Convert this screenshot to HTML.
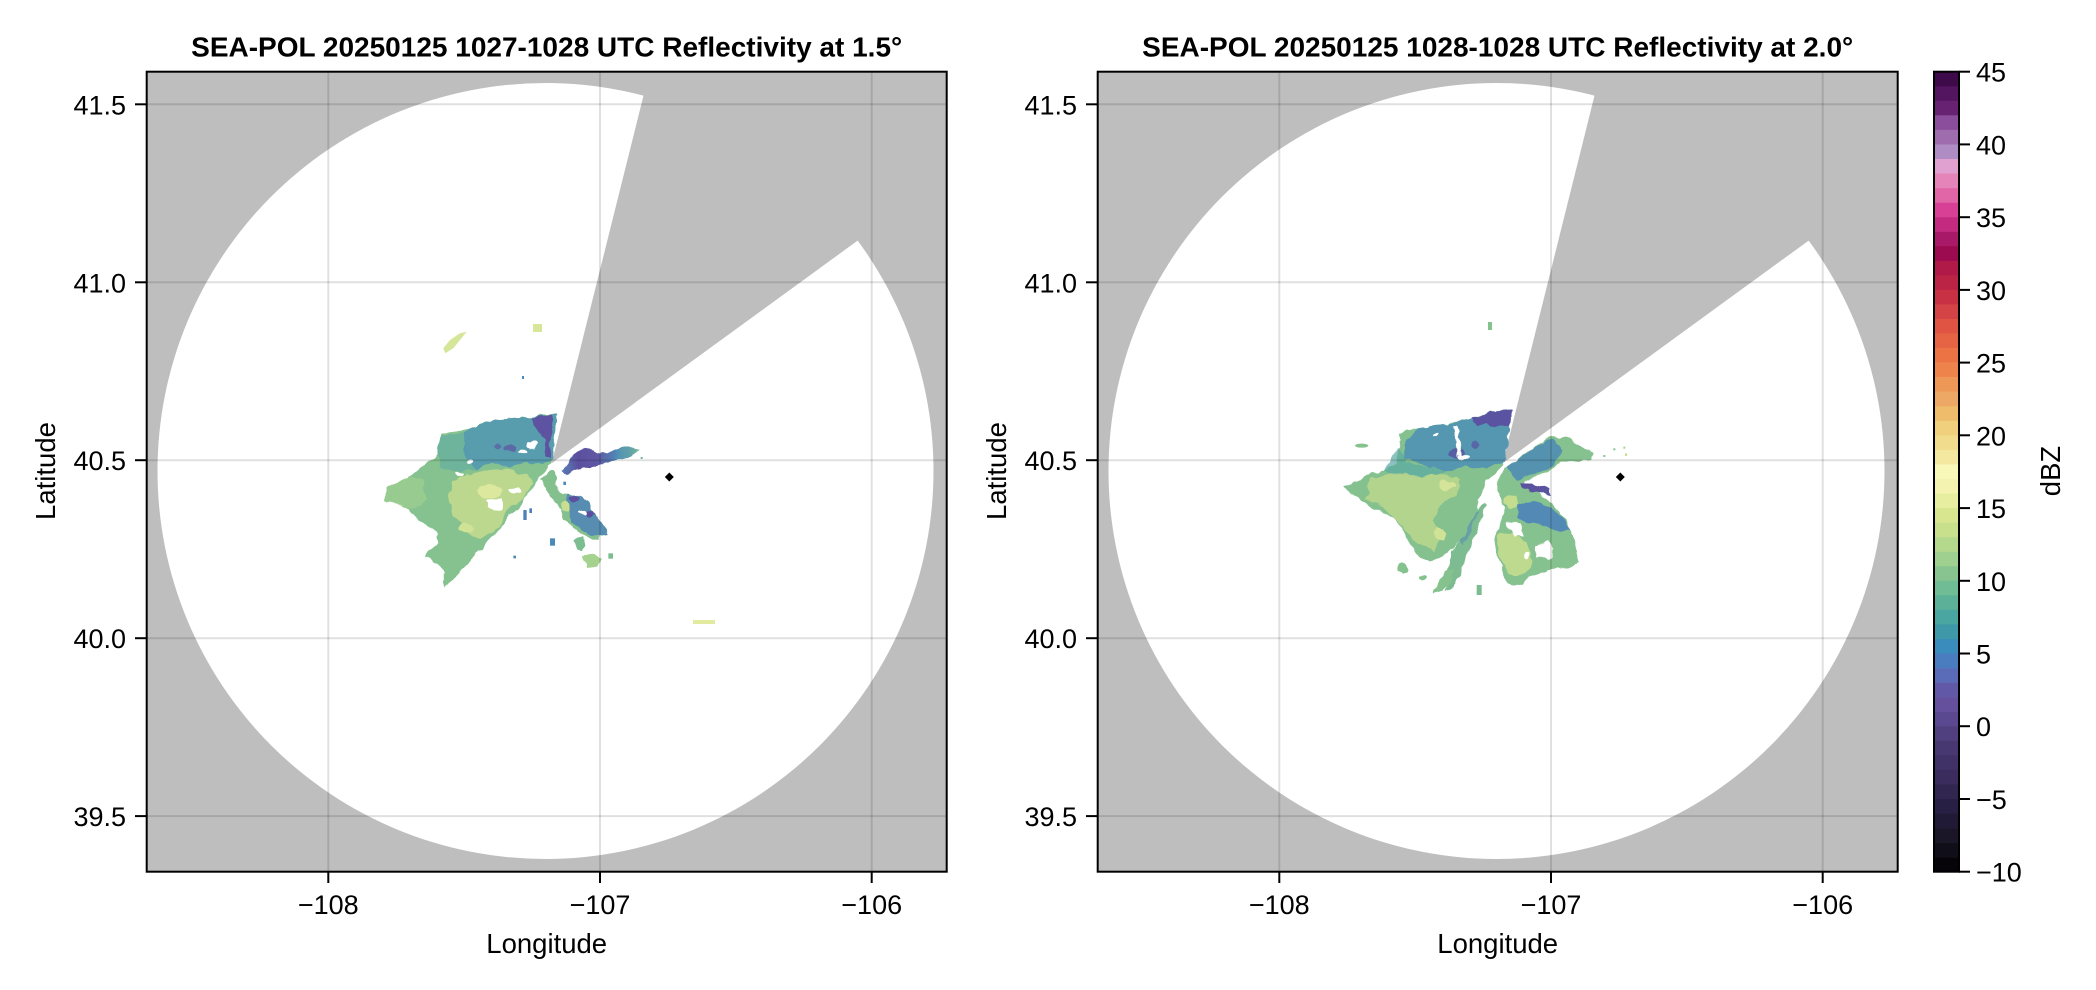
<!DOCTYPE html>
<html>
<head>
<meta charset="utf-8">
<style>
html,body{margin:0;padding:0;background:#fff;}
svg{display:block;}
text{font-family:"Liberation Sans",Arial,sans-serif;fill:#000;}
.tk{font-size:27px;}
.lb{font-size:27.5px;}
.tt{font-size:28px;font-weight:bold;}
</style>
</head>
<body>
<svg width="2096" height="990" viewBox="0 0 2096 990" xmlns="http://www.w3.org/2000/svg">
<defs>
  <clipPath id="cl"><rect x="146.7" y="71.7" width="800" height="800"/></clipPath>
  <clipPath id="cr"><rect x="1097.7" y="71.7" width="800" height="800"/></clipPath>
  <linearGradient id="gs" x1="0" x2="1" y1="0" y2="0">
    <stop offset="0" stop-color="#5a80b6"/>
    <stop offset="0.2" stop-color="#5a4f9e"/>
    <stop offset="0.45" stop-color="#6058a4"/>
    <stop offset="0.7" stop-color="#4e8ab6"/>
    <stop offset="1" stop-color="#74b89c"/>
  </linearGradient>
  <filter id="rough" x="-10%" y="-10%" width="120%" height="120%">
    <feTurbulence type="fractalNoise" baseFrequency="0.03" numOctaves="2" seed="4" result="n"/>
    <feDisplacementMap in="SourceGraphic" in2="n" scale="22" xChannelSelector="R" yChannelSelector="G"/>
  </filter>
</defs>

<!-- ================= LEFT PANEL ================= -->
<g clip-path="url(#cl)">
  <rect x="146.7" y="71.7" width="800" height="800" fill="#bebebe"/>
  <circle cx="545.5" cy="471" r="388" fill="#fff"/>
  <polygon points="551.7,463.3 652.4,60 960,60 960,166.1" fill="#bebebe"/>

  <g transform="translate(370,395) scale(0.333333)">
   <g filter="url(#rough)">
    <path fill="#86c28f" d="M45,282 L70,270 L110,245 L150,225 L200,180 L210,150 L215,120 L250,110 L300,100 L340,85 L380,75 L430,70 L490,65 L520,60 L560,60 L555,120 L545,200 L520,235 L500,260 L470,300 L450,330 L420,360 L400,385 L390,400 L360,430 L330,470 L300,500 L280,520 L260,545 L240,560 L225,578 L212,560 L225,530 L200,505 L165,485 L200,440 L205,415 L160,385 L125,355 L95,330 L60,318 L45,312 Z"/>
    <path fill="#9ccd8f" opacity="0.8" d="M45,282 L110,245 L160,260 L170,320 L120,345 L60,318 L45,312 Z"/>
    <path fill="#64aca0" opacity="0.7" d="M200,180 L215,125 L280,110 L300,190 L320,220 L260,230 L210,215 Z"/>
    <path fill="#4f95b3" opacity="0.82" d="M280,110 L340,85 L380,75 L490,65 L560,60 L548,190 L520,210 L470,200 L420,220 L370,205 L320,220 L290,190 Z"/>
    <path fill="#5d52a0" d="M485,68 L548,60 L545,120 L538,190 L522,185 L528,140 L510,110 L490,95 Z"/>
    <ellipse cx="420" cy="160" rx="20" ry="12" fill="#5d52a0" opacity="0.7"/>
    <ellipse cx="380" cy="150" rx="12" ry="8" fill="#5d52a0" opacity="0.6"/>
    <path fill="#c4dc8e" opacity="0.85" d="M250,255 L320,228 L400,222 L470,238 L485,268 L455,318 L415,338 L385,398 L335,432 L285,412 L255,365 L232,305 Z"/>
    <ellipse cx="360" cy="290" rx="35" ry="22" fill="#dbe89e"/>
    <ellipse cx="290" cy="400" rx="25" ry="15" fill="#d0e296"/>
    <ellipse cx="435" cy="285" rx="22" ry="9" fill="#fff"/>
    <polygon points="350,315 400,312 398,345 372,350 352,338" fill="#fff"/>
    <ellipse cx="268" cy="238" rx="14" ry="6" fill="#fff"/>
    <ellipse cx="490" cy="150" rx="14" ry="12" fill="#fff"/>
    <ellipse cx="458" cy="170" rx="12" ry="6" fill="#fff"/>
    <ellipse cx="300" cy="200" rx="8" ry="5" fill="#fff"/>
    <path fill="url(#gs)" d="M575,228 L595,200 L615,175 L640,160 L670,165 L690,175 L730,165 L770,155 L810,165 L780,185 L740,195 L690,205 L640,217 L598,235 Z"/>
    <path fill="#84c08e" d="M515,250 L540,228 L555,235 L565,285 L590,300 L625,298 L650,320 L670,350 L690,380 L710,400 L715,420 L690,425 L680,440 L660,430 L640,420 L615,400 L600,390 L580,375 L570,340 L555,320 L540,300 L525,275 Z"/>
    <path fill="#4f84b6" opacity="0.85" d="M590,300 L625,298 L650,320 L670,350 L690,380 L710,400 L715,420 L690,425 L660,420 L630,400 L605,385 L595,350 Z"/>
    <ellipse cx="615" cy="310" rx="15" ry="10" fill="#5c50a0"/>
    <ellipse cx="660" cy="355" rx="12" ry="10" fill="#5c50a0"/>
    <ellipse cx="585" cy="335" rx="14" ry="16" fill="#c8de90"/>
    <ellipse cx="640" cy="355" rx="10" ry="6" fill="#fff"/>
    <path fill="#7cbe90" d="M610,430 L640,425 L645,450 L635,470 L620,460 Z"/>
    <path fill="#a6d28f" d="M640,485 L670,480 L690,490 L680,510 L655,515 L645,500 Z"/>
   </g>
    <rect x="812" y="186" width="6" height="6" fill="#74b89c"/>
    <rect x="715" y="475" width="14" height="16" fill="#7cbe90"/>
    <rect x="540" y="430" width="15" height="22" fill="#4a8ab8"/>
    <rect x="460" y="345" width="10" height="30" fill="#5080b8"/>
    <rect x="478" y="340" width="8" height="14" fill="#5080b8"/>
    <rect x="430" y="482" width="8" height="8" fill="#4a8ab8"/>
    <rect x="580" y="260" width="8" height="10" fill="#4a8ab8"/>
  </g>
  <polygon points="466.7,331.7 460,340 453.3,348.3 445.3,353.3 443.3,348.3 450,340 460,333.3" fill="#d6e698"/>
  <rect x="533" y="324" width="9" height="8" fill="#d8e69a"/>
  <rect x="693" y="620" width="22" height="4" fill="#e2ea9e"/>
  <rect x="522" y="376" width="2" height="3" fill="#4a8ab8"/>

  <polygon points="669.3,472.5 673.8,477 669.3,481.5 664.8,477" fill="#000"/>

  <g stroke="rgba(0,0,0,0.12)" stroke-width="2">
    <line x1="328.3" y1="71.7" x2="328.3" y2="871.7"/>
    <line x1="600" y1="71.7" x2="600" y2="871.7"/>
    <line x1="871.7" y1="71.7" x2="871.7" y2="871.7"/>
    <line x1="146.7" y1="104.3" x2="946.7" y2="104.3"/>
    <line x1="146.7" y1="282.3" x2="946.7" y2="282.3"/>
    <line x1="146.7" y1="460.2" x2="946.7" y2="460.2"/>
    <line x1="146.7" y1="638.2" x2="946.7" y2="638.2"/>
    <line x1="146.7" y1="816.1" x2="946.7" y2="816.1"/>
  </g>
</g>
<rect x="146.7" y="71.7" width="800" height="800" fill="none" stroke="#000" stroke-width="2"/>
<g stroke="#000" stroke-width="2">
  <line x1="135" y1="104.3" x2="146.7" y2="104.3"/>
  <line x1="135" y1="282.3" x2="146.7" y2="282.3"/>
  <line x1="135" y1="460.2" x2="146.7" y2="460.2"/>
  <line x1="135" y1="638.2" x2="146.7" y2="638.2"/>
  <line x1="135" y1="816.1" x2="146.7" y2="816.1"/>
  <line x1="328.3" y1="871.7" x2="328.3" y2="883"/>
  <line x1="600" y1="871.7" x2="600" y2="883"/>
  <line x1="871.7" y1="871.7" x2="871.7" y2="883"/>
</g>
<g class="tk" text-anchor="end">
  <text x="126" y="114.3">41.5</text>
  <text x="126" y="292.3">41.0</text>
  <text x="126" y="470.2">40.5</text>
  <text x="126" y="648.2">40.0</text>
  <text x="126" y="826.1">39.5</text>
</g>
<g class="tk" text-anchor="middle">
  <text x="328.3" y="914">−108</text>
  <text x="600" y="914">−107</text>
  <text x="871.7" y="914">−106</text>
</g>
<text class="lb" x="546.7" y="953" text-anchor="middle">Longitude</text>
<text class="lb" text-anchor="middle" transform="translate(55,471) rotate(-90)">Latitude</text>
<text class="tt" x="546.7" y="56.7" text-anchor="middle">SEA-POL 20250125 1027-1028 UTC Reflectivity at 1.5°</text>

<!-- ================= RIGHT PANEL ================= -->
<g clip-path="url(#cr)">
  <rect x="1097.7" y="71.7" width="800" height="800" fill="#bebebe"/>
  <circle cx="1496.5" cy="471" r="388" fill="#fff"/>
  <polygon points="1502.7,463.3 1603.4,60 1911,60 1911,166.1" fill="#bebebe"/>

  <g transform="translate(1320,395) scale(0.333333)">
   <g filter="url(#rough)">
    <path fill="#84c18f" d="M70,275 L100,262 L150,240 L190,225 L230,200 L235,160 L240,120 L260,105 L290,100 L330,95 L370,90 L410,80 L440,75 L480,60 L520,50 L575,45 L565,120 L550,210 L520,240 L500,270 L470,320 L480,360 L450,400 L430,430 L400,460 L370,480 L330,500 L300,490 L280,460 L250,410 L220,370 L160,340 L130,320 L100,300 Z"/>
    <path fill="#5aa8a4" opacity="0.7" d="M190,225 L235,160 L260,200 L330,215 L380,232 L300,245 L220,240 Z"/>
    <path fill="#4a8cb8" opacity="0.8" d="M250,150 L290,100 L370,90 L440,75 L520,50 L575,45 L555,200 L500,220 L440,215 L380,230 L330,215 L290,200 L250,190 Z"/>
    <path fill="#5a52a2" d="M450,70 L520,50 L575,45 L570,90 L540,95 L500,85 L470,90 Z"/>
    <ellipse cx="410" cy="175" rx="25" ry="15" fill="#5a52a2" opacity="0.8"/>
    <ellipse cx="470" cy="150" rx="15" ry="10" fill="#5a52a2" opacity="0.7"/>
    <path fill="#c2da8c" opacity="0.75" d="M150,255 L220,235 L300,242 L380,238 L420,252 L410,300 L360,330 L335,380 L370,420 L340,465 L290,448 L250,400 L200,350 L140,312 Z"/>
    <ellipse cx="380" cy="270" rx="25" ry="15" fill="#d4e498"/>
    <ellipse cx="360" cy="420" rx="20" ry="18" fill="#d0e296"/>
    <path fill="#fff" d="M400,95 L412,95 L425,180 L413,185 Z"/>
    <ellipse cx="432" cy="185" rx="15" ry="6" fill="#fff"/>
    <ellipse cx="350" cy="120" rx="10" ry="5" fill="#fff"/>
    <path fill="#fff" d="M495,255 L535,245 L555,270 L548,320 L545,370 L520,385 L500,355 L478,330 Z"/>
    <path fill="#7cbc90" d="M395,470 L420,440 L450,390 L470,350 L490,320 L500,330 L485,380 L460,430 L440,480 L420,540 L400,580 L380,590 L385,540 Z"/>
    <path fill="#5a8cb8" opacity="0.6" d="M420,440 L450,390 L470,350 L480,345 L455,400 L430,450 Z"/>
    <path fill="#86c28e" d="M340,600 L350,560 L380,530 L400,520 L395,560 L370,590 Z"/>
    <ellipse cx="250" cy="520" rx="18" ry="16" fill="#86c28e"/>
    <ellipse cx="310" cy="548" rx="10" ry="8" fill="#86c28e"/>
    <path fill="#86c28f" d="M555,220 L600,185 L640,160 L690,125 L740,125 L760,140 L790,160 L820,170 L815,195 L760,200 L720,200 L700,220 L660,240 L640,250 L610,262 L650,290 L690,320 L720,350 L745,385 L760,420 L770,470 L775,500 L740,520 L700,520 L660,535 L630,545 L600,570 L560,565 L545,520 L525,470 L520,430 L540,390 L555,340 L540,300 L530,260 Z"/>
    <path fill="#4c8ab6" opacity="0.85" d="M560,215 L610,180 L660,150 L700,130 L725,165 L700,210 L640,240 L590,255 Z"/>
    <path fill="#fff" d="M612,258 L700,228 L705,262 L640,262 Z"/>
    <path fill="#5a52a0" d="M600,265 L640,266 L690,285 L695,300 L640,292 L605,278 Z"/>
    <path fill="#4a80bc" opacity="0.85" d="M590,330 L640,318 L690,338 L730,368 L752,402 L720,412 L670,392 L620,382 L590,370 Z"/>
    <path fill="#c8de8e" opacity="0.85" d="M530,420 L580,410 L620,440 L640,500 L610,540 L570,540 L540,500 Z"/>
    <ellipse cx="575" cy="320" rx="20" ry="20" fill="#c4dc8e"/>
    <path fill="#fff" d="M645,450 L680,440 L700,460 L690,490 L655,490 Z"/>
    <path fill="#fff" d="M560,380 L600,385 L615,420 L590,425 L565,400 Z"/>
    <ellipse cx="620" cy="480" rx="10" ry="8" fill="#fff"/>
   </g>
    <rect x="470" y="570" width="15" height="30" fill="#7cbc90"/>
    <ellipse cx="125" cy="152" rx="20" ry="6" fill="#86c28e"/>
    <rect x="880" y="160" width="6" height="6" fill="#86c28e"/>
    <rect x="910" y="155" width="6" height="6" fill="#a6d28f"/>
    <rect x="850" y="180" width="6" height="6" fill="#86c28e"/>
    <rect x="915" y="175" width="6" height="8" fill="#c8de8e"/>
  </g>
  <rect x="1488" y="322" width="4" height="8" fill="#86c28e"/>

  <polygon points="1620.3,472.5 1624.8,477 1620.3,481.5 1615.8,477" fill="#000"/>

  <g stroke="rgba(0,0,0,0.12)" stroke-width="2">
    <line x1="1279.3" y1="71.7" x2="1279.3" y2="871.7"/>
    <line x1="1551" y1="71.7" x2="1551" y2="871.7"/>
    <line x1="1822.7" y1="71.7" x2="1822.7" y2="871.7"/>
    <line x1="1097.7" y1="104.3" x2="1897.7" y2="104.3"/>
    <line x1="1097.7" y1="282.3" x2="1897.7" y2="282.3"/>
    <line x1="1097.7" y1="460.2" x2="1897.7" y2="460.2"/>
    <line x1="1097.7" y1="638.2" x2="1897.7" y2="638.2"/>
    <line x1="1097.7" y1="816.1" x2="1897.7" y2="816.1"/>
  </g>
</g>
<rect x="1097.7" y="71.7" width="800" height="800" fill="none" stroke="#000" stroke-width="2"/>
<g stroke="#000" stroke-width="2">
  <line x1="1086" y1="104.3" x2="1097.7" y2="104.3"/>
  <line x1="1086" y1="282.3" x2="1097.7" y2="282.3"/>
  <line x1="1086" y1="460.2" x2="1097.7" y2="460.2"/>
  <line x1="1086" y1="638.2" x2="1097.7" y2="638.2"/>
  <line x1="1086" y1="816.1" x2="1097.7" y2="816.1"/>
  <line x1="1279.3" y1="871.7" x2="1279.3" y2="883"/>
  <line x1="1551" y1="871.7" x2="1551" y2="883"/>
  <line x1="1822.7" y1="871.7" x2="1822.7" y2="883"/>
</g>
<g class="tk" text-anchor="end">
  <text x="1077" y="114.3">41.5</text>
  <text x="1077" y="292.3">41.0</text>
  <text x="1077" y="470.2">40.5</text>
  <text x="1077" y="648.2">40.0</text>
  <text x="1077" y="826.1">39.5</text>
</g>
<g class="tk" text-anchor="middle">
  <text x="1279.3" y="914">−108</text>
  <text x="1551" y="914">−107</text>
  <text x="1822.7" y="914">−106</text>
</g>
<text class="lb" x="1497.7" y="953" text-anchor="middle">Longitude</text>
<text class="lb" text-anchor="middle" transform="translate(1006,471) rotate(-90)">Latitude</text>
<text class="tt" x="1497.7" y="56.7" text-anchor="middle">SEA-POL 20250125 1028-1028 UTC Reflectivity at 2.0°</text>

<!-- ================= COLORBAR ================= -->
<g>
  <rect x="1934" y="71.7" width="25" height="14.8" fill="#3f0a4a"/>
  <rect x="1934" y="86.25" width="25" height="14.8" fill="#531560"/>
  <rect x="1934" y="100.79" width="25" height="14.8" fill="#682272"/>
  <rect x="1934" y="115.34" width="25" height="14.8" fill="#8a4e9c"/>
  <rect x="1934" y="129.88" width="25" height="14.8" fill="#9f6cae"/>
  <rect x="1934" y="144.43" width="25" height="14.8" fill="#b08cc4"/>
  <rect x="1934" y="158.97" width="25" height="14.8" fill="#e0a0d0"/>
  <rect x="1934" y="173.52" width="25" height="14.8" fill="#e484b8"/>
  <rect x="1934" y="188.06" width="25" height="14.8" fill="#e066a8"/>
  <rect x="1934" y="202.61" width="25" height="14.8" fill="#d84096"/>
  <rect x="1934" y="217.15" width="25" height="14.8" fill="#c42a80"/>
  <rect x="1934" y="231.70" width="25" height="14.8" fill="#a81a68"/>
  <rect x="1934" y="246.24" width="25" height="14.8" fill="#9c0a50"/>
  <rect x="1934" y="260.79" width="25" height="14.8" fill="#b01a48"/>
  <rect x="1934" y="275.33" width="25" height="14.8" fill="#bc2445"/>
  <rect x="1934" y="289.88" width="25" height="14.8" fill="#c83044"/>
  <rect x="1934" y="304.42" width="25" height="14.8" fill="#d44446"/>
  <rect x="1934" y="318.97" width="25" height="14.8" fill="#e05444"/>
  <rect x="1934" y="333.51" width="25" height="14.8" fill="#e66444"/>
  <rect x="1934" y="348.06" width="25" height="14.8" fill="#ec7444"/>
  <rect x="1934" y="362.60" width="25" height="14.8" fill="#ee844c"/>
  <rect x="1934" y="377.15" width="25" height="14.8" fill="#ee9858"/>
  <rect x="1934" y="391.69" width="25" height="14.8" fill="#eca864"/>
  <rect x="1934" y="406.24" width="25" height="14.8" fill="#efbc6c"/>
  <rect x="1934" y="420.78" width="25" height="14.8" fill="#f0d07c"/>
  <rect x="1934" y="435.33" width="25" height="14.8" fill="#f0dc8c"/>
  <rect x="1934" y="449.87" width="25" height="14.8" fill="#f4e8a0"/>
  <rect x="1934" y="464.42" width="25" height="14.8" fill="#f8f8b8"/>
  <rect x="1934" y="478.96" width="25" height="14.8" fill="#f4f4b0"/>
  <rect x="1934" y="493.51" width="25" height="14.8" fill="#e8eea0"/>
  <rect x="1934" y="508.05" width="25" height="14.8" fill="#d8e690"/>
  <rect x="1934" y="522.60" width="25" height="14.8" fill="#c8e08c"/>
  <rect x="1934" y="537.14" width="25" height="14.8" fill="#b4d88c"/>
  <rect x="1934" y="551.69" width="25" height="14.8" fill="#a0d090"/>
  <rect x="1934" y="566.23" width="25" height="14.8" fill="#88c490"/>
  <rect x="1934" y="580.78" width="25" height="14.8" fill="#70bc94"/>
  <rect x="1934" y="595.32" width="25" height="14.8" fill="#5cb098"/>
  <rect x="1934" y="609.87" width="25" height="14.8" fill="#4aa6a0"/>
  <rect x="1934" y="624.41" width="25" height="14.8" fill="#3e98a8"/>
  <rect x="1934" y="638.96" width="25" height="14.8" fill="#3a8cbc"/>
  <rect x="1934" y="653.50" width="25" height="14.8" fill="#4a7cc0"/>
  <rect x="1934" y="668.05" width="25" height="14.8" fill="#5a6cb8"/>
  <rect x="1934" y="682.59" width="25" height="14.8" fill="#6258a8"/>
  <rect x="1934" y="697.14" width="25" height="14.8" fill="#64509c"/>
  <rect x="1934" y="711.68" width="25" height="14.8" fill="#5a4890"/>
  <rect x="1934" y="726.23" width="25" height="14.8" fill="#504080"/>
  <rect x="1934" y="740.77" width="25" height="14.8" fill="#483872"/>
  <rect x="1934" y="755.32" width="25" height="14.8" fill="#403266"/>
  <rect x="1934" y="769.86" width="25" height="14.8" fill="#3a2c5c"/>
  <rect x="1934" y="784.41" width="25" height="14.8" fill="#302650"/>
  <rect x="1934" y="798.95" width="25" height="14.8" fill="#282044"/>
  <rect x="1934" y="813.50" width="25" height="14.8" fill="#201a36"/>
  <rect x="1934" y="828.04" width="25" height="14.8" fill="#1a1628"/>
  <rect x="1934" y="842.59" width="25" height="14.8" fill="#100e18"/>
  <rect x="1934" y="857.13" width="25" height="14.57" fill="#060408"/>
</g>
<rect x="1934" y="71.7" width="25" height="800" fill="none" stroke="#000" stroke-width="2"/>
<g stroke="#000" stroke-width="2">
  <line x1="1959" y1="71.7" x2="1970" y2="71.7"/>
  <line x1="1959" y1="144.4" x2="1970" y2="144.4"/>
  <line x1="1959" y1="217.2" x2="1970" y2="217.2"/>
  <line x1="1959" y1="289.9" x2="1970" y2="289.9"/>
  <line x1="1959" y1="362.6" x2="1970" y2="362.6"/>
  <line x1="1959" y1="435.3" x2="1970" y2="435.3"/>
  <line x1="1959" y1="508.1" x2="1970" y2="508.1"/>
  <line x1="1959" y1="580.8" x2="1970" y2="580.8"/>
  <line x1="1959" y1="653.5" x2="1970" y2="653.5"/>
  <line x1="1959" y1="726.2" x2="1970" y2="726.2"/>
  <line x1="1959" y1="799.0" x2="1970" y2="799.0"/>
  <line x1="1959" y1="871.7" x2="1970" y2="871.7"/>
</g>
<g class="tk" text-anchor="start">
  <text x="1976" y="81.7">45</text>
  <text x="1976" y="154.4">40</text>
  <text x="1976" y="227.2">35</text>
  <text x="1976" y="299.9">30</text>
  <text x="1976" y="372.6">25</text>
  <text x="1976" y="445.3">20</text>
  <text x="1976" y="518.1">15</text>
  <text x="1976" y="590.8">10</text>
  <text x="1976" y="663.5">5</text>
  <text x="1976" y="736.2">0</text>
  <text x="1976" y="809.0">−5</text>
  <text x="1976" y="881.7">−10</text>
</g>
<text class="lb" text-anchor="middle" transform="translate(2060,471) rotate(-90)">dBZ</text>
</svg>
</body>
</html>
